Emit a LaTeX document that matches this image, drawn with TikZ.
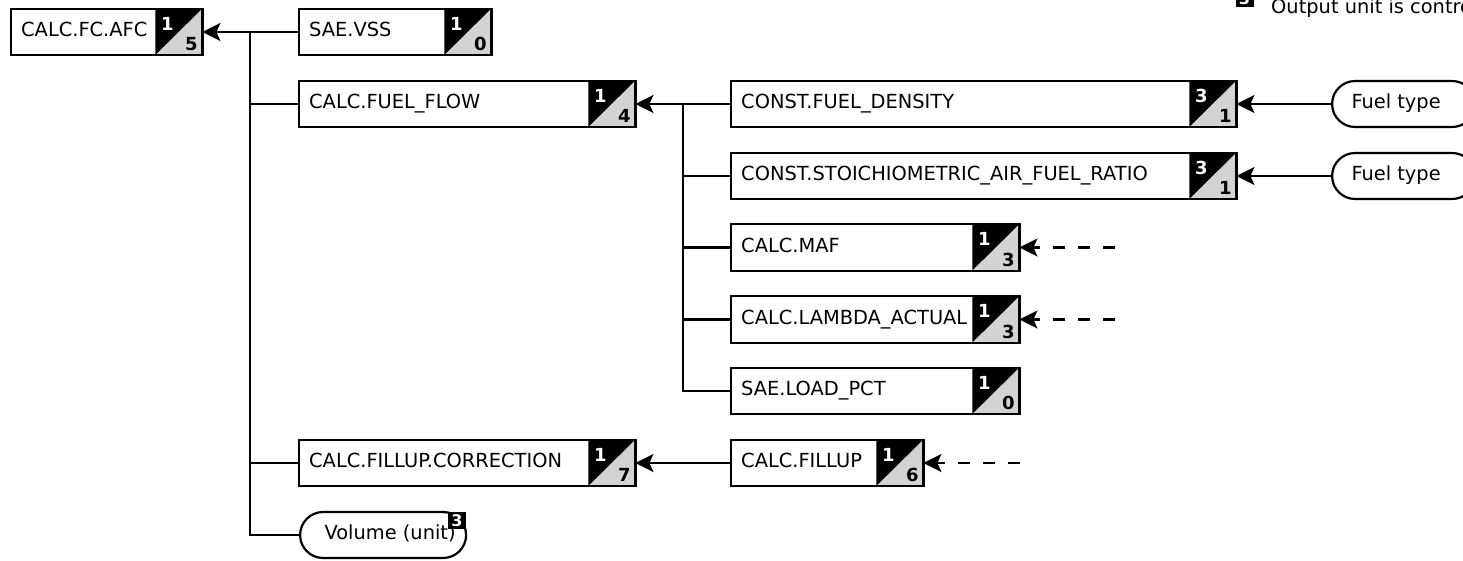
\documentclass[tikz,border=0pt]{standalone}
\usepackage{fontspec}
\setmainfont{DejaVu Sans}
\usetikzlibrary{arrows.meta,shapes.misc}
\definecolor{badgegray}{RGB}{211,211,211}
\tikzset{
  box/.style={rectangle, minimum height=46pt, inner xsep=10pt, inner ysep=0pt, anchor=west,
    align=left, font=\fontsize{19.4}{22}\selectfont, text height=14pt, text depth=5pt},
  oval/.style={rounded rectangle, draw, line width=2.2pt, minimum height=46pt, inner xsep=0pt, inner ysep=0pt,
    anchor=west, font=\fontsize{19.4}{22}\selectfont, text height=14pt, text depth=5pt},
  dig/.style={inner sep=0pt, font=\bfseries\fontsize{18}{18}\selectfont},
  minibadge/.style={fill=black, text=white, inner sep=0pt, minimum width=18pt, minimum height=17pt,
    font=\bfseries\fontsize{16}{16}\selectfont},
  txt/.style={inner sep=0pt, font=\fontsize{19.4}{22}\selectfont},
  ln/.style={line width=2.2pt},
  arr/.style={line width=2.2pt, -{Stealth[length=18pt, width=18pt, inset=4pt]}},
  dsh/.style={dash pattern=on 12pt off 13pt},
}
\newcommand\mybadge[3]{%
  \fill[black] ([xshift=-47pt]#1.north east) -- (#1.north east) -- ([xshift=-47pt]#1.south east) -- cycle;
  \fill[badgegray] (#1.north east) -- (#1.south east) -- ([xshift=-47pt]#1.south east) -- cycle;
  \draw[line width=2.2pt] (#1.south west) rectangle (#1.north east);
  \node[dig, text=white] (#1-t) at ([xshift=-35pt,yshift=-15pt]#1.north east) {#2};
  \node[dig] (#1-b) at ([xshift=-11pt,yshift=11pt]#1.south east) {#3};
}
\begin{document}
\begin{tikzpicture}[x=1pt, y=-1pt]
\useasboundingbox (0,0) rectangle (1463,561);
\fill[white] (0,0) rectangle (1463,561);

% boxes
\node[box, text width=171pt] (afc) at (11,32) {CALC.FC.AFC};
\node[box, text width=172pt] (vss) at (299,32) {SAE.VSS};
\node[box, text width=316pt] (ff) at (299,104) {CALC.FUEL\_FLOW};
\node[box, text width=485pt] (fd) at (731,104) {CONST.FUEL\_DENSITY};
\node[box, text width=485pt] (st) at (731,176) {CONST.STOICHIOMETRIC\_AIR\_FUEL\_RATIO};
\node[box, text width=268pt] (maf) at (731,247.5) {CALC.MAF};
\node[box, text width=268pt] (lam) at (731,319.5) {CALC.LAMBDA\_ACTUAL};
\node[box, text width=268pt] (load) at (731,391) {SAE.LOAD\_PCT};
\node[box, text width=316pt] (fc) at (299,463) {CALC.FILLUP.CORRECTION};
\node[box, text width=172pt] (fill) at (731,463) {CALC.FILLUP};

\node[oval, minimum width=166pt] (vol) at (299,535) {\hspace*{14pt}Volume (unit)};
\node[oval, minimum width=143pt] (ft1) at (1331,104) {Fuel type\hspace*{15pt}};
\node[oval, minimum width=143pt] (ft2) at (1331,176) {Fuel type\hspace*{15pt}};

\mybadge{afc}{1}{5}
\mybadge{vss}{1}{0}
\mybadge{ff}{1}{4}
\mybadge{fd}{3}{1}
\mybadge{st}{3}{1}
\mybadge{maf}{1}{3}
\mybadge{lam}{1}{3}
\mybadge{load}{1}{0}
\mybadge{fc}{1}{7}
\mybadge{fill}{1}{6}

\node[minibadge] (volb) at (457,520.5) {3};

% legend
\node[minibadge] (leg) at (1244.5,-1.5) {3};
\node[txt, anchor=base west] (legt) at (1271,13.3) {Output unit is contro};

% connectors
\coordinate (j1) at (250,32);
\draw[arr] (vss.west) -- (afc.east);
\draw[ln] (j1) |- (vol.west);
\draw[ln] (j1 |- ff.west) -- (ff.west);
\draw[ln] (j1 |- fc.west) -- (fc.west);

\coordinate (j2) at (683,104);
\draw[arr] (fd.west) -- (ff.east);
\draw[ln] (j2) |- (load.west);
\draw[ln] (j2 |- st.west) -- (st.west);
\draw[ln] (j2 |- maf.west) -- (maf.west);
\draw[ln] (j2 |- lam.west) -- (lam.west);

\draw[arr] (fill.west) -- (fc.east);
\draw[arr] (ft1.west) -- (fd.east);
\draw[arr] (ft2.west) -- (st.east);

\coordinate (d1) at (1115,247.5);
\coordinate (d2) at (1115,319.5);
\coordinate (d3) at (1020,463);
\draw[arr, dsh] (d1) -- (maf.east);
\draw[arr, dsh] (d2) -- (lam.east);
\draw[arr, dsh] (d3) -- (fill.east);
\end{tikzpicture}
\end{document}
